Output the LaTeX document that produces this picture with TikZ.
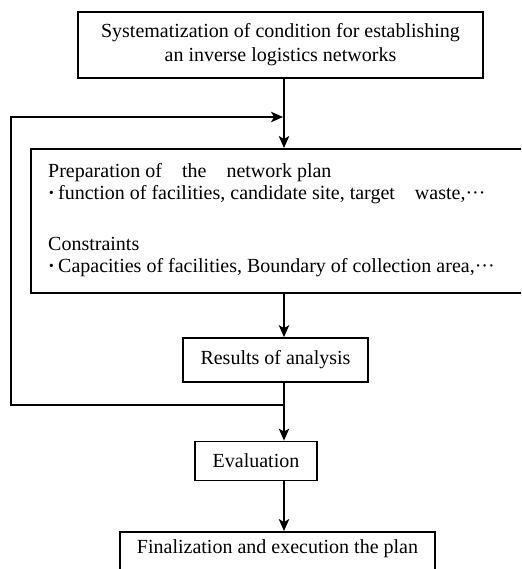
\documentclass[tikz,border=0pt]{standalone}
\usepackage{fontspec}
\setmainfont{Liberation Serif}
\usetikzlibrary{arrows.meta}
\begin{document}
\begin{tikzpicture}[x=1pt,y=-1pt,
  box/.style={draw,line width=1.8pt,inner sep=0pt,font=\fontsize{20}{24}\selectfont},
  conn/.style={line width=1.3pt},
  arr/.style={conn,-{Stealth[length=12pt,width=10.5pt,inset=3pt]}},
  txt/.style={anchor=base west,inner sep=0pt,font=\fontsize{20}{22}\selectfont}]
\useasboundingbox (0,0) rectangle (521,569);
\clip (0,0) rectangle (521,569);
\coordinate (spine) at (284,0);
\coordinate (fbl) at (11,0);
% boxes
\node[box,minimum width=405pt,minimum height=66pt,align=center] (top) at (280.5,45)
  {Systematization of condition for establishing\\an inverse logistics networks};
\node[box,anchor=north west,minimum width=500pt,minimum height=144pt] (plan) at (30,148) {};
\node[txt] (l1) at (48,178) {Preparation of\quad the\quad network plan};
\node[txt] (l2) at (48,200) {{\bfseries ·}\,function of facilities, candidate site, target\quad waste,···};
\node[txt] (l3) at (48,250) {Constraints};
\node[txt] (l4) at (48,272) {{\bfseries ·}\,Capacities of facilities, Boundary of collection area,···};
\node[box,minimum width=185pt,minimum height=44pt] (res) at (275.5,360) {Results of analysis};
\node[box,minimum width=122pt,minimum height=39pt] (eval) at (256,461) {Evaluation};
\node[box,anchor=north,minimum width=315pt,text height=14pt,text depth=30pt,inner ysep=8pt] (fin) at (277.5,531)
  {Finalization and execution the plan};
% connectors
\coordinate (fbt) at (284,117);
\coordinate (fbb) at (284,405);
\draw[arr] (top.south -| spine) -- (plan.north -| spine);
\draw[arr] (plan.south -| spine) -- (res.north -| spine);
\draw[arr] (res.south -| spine) -- (eval.north -| spine);
\draw[arr] (eval.south -| spine) -- (fin.north -| spine);
\draw[arr,shorten >=1pt] (fbb) -- (fbb -| fbl) -- (fbt -| fbl) -- (fbt);
\end{tikzpicture}
\end{document}
